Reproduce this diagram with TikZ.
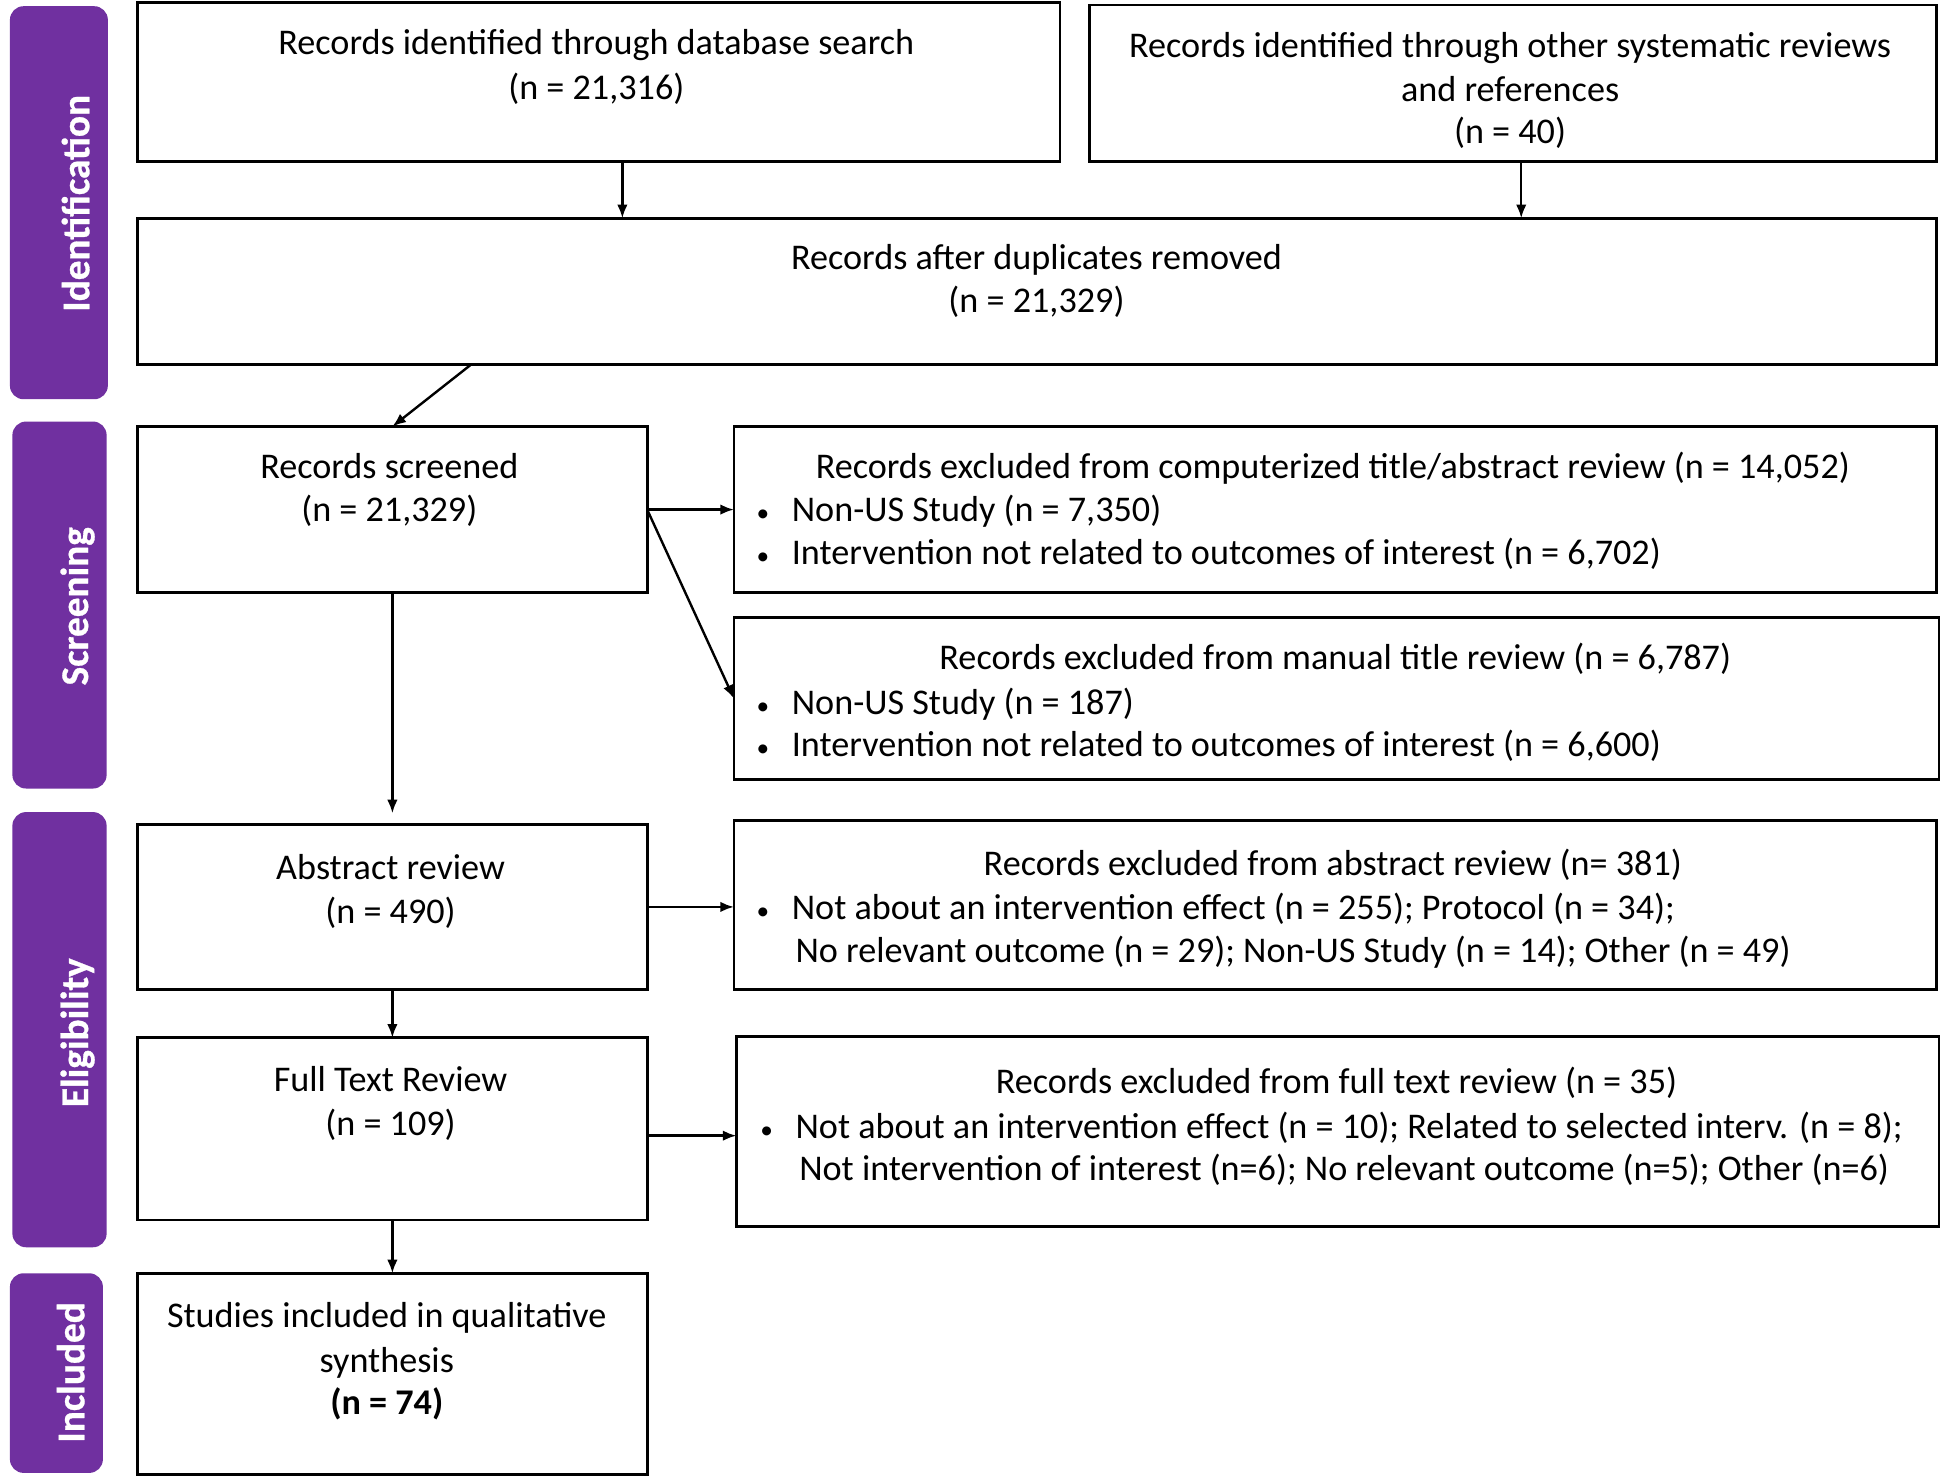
\documentclass[tikz,border=0pt]{standalone}
\usepackage{fontspec}
\usepackage{graphicx}
\setmainfont{Carlito}
\newfontfamily\phasefont[FakeBold=0.8]{Carlito}
\usetikzlibrary{arrows.meta}
\definecolor{phasecol}{HTML}{7030A0}
\newcommand{\mybox}[5]{\node[box, minimum width={(#4-#2)*0.1mm}, minimum height={(#5-#3)*0.1mm}] (#1) at (#2,#3) {};}
\newcommand{\myphase}[5]{\node[phasebox, minimum width={(#4-#2)*0.1mm}, minimum height={(#5-#3)*0.1mm}] (#1) at (#2,#3) {};}
\newcommand{\bul}{\makebox[3.0mm][l]{\hspace{0.15mm}\scalebox{0.7}{\textbullet}}}
\begin{document}
\begin{tikzpicture}[x=0.1mm, y=-0.1mm,
  box/.style={draw, line width=0.65pt, anchor=north west, inner sep=0pt, outer sep=0pt, fill=white},
  phasebox/.style={fill=phasecol, rounded corners=1.1mm, anchor=north west, inner sep=0pt, outer sep=0pt},
  phasetxt/.style={text=white, font=\fontsize{9}{11}\selectfont\phasefont\bfseries, rotate=90, anchor=base, inner sep=0pt},
  txt/.style={inner sep=0pt, font=\fontsize{8.3}{10.2}\selectfont, anchor=base},
  btxt/.style={inner sep=0pt, font=\fontsize{8.3}{10.2}\selectfont, anchor=base west},
  arr/.style={-{Latex[length=1.1mm,width=0.85mm]}, line width=0.55pt}]
\useasboundingbox (0,0) rectangle (1568,1193);
\fill[white] (0,0) rectangle (1568,1193);
% phase labels
\myphase{P1}{8}{5}{87}{322}
\myphase{P2}{10}{340}{86}{636}
\myphase{P3}{10}{655}{86}{1006}
\myphase{P4}{8}{1027}{83}{1188}
\node[phasetxt] (p1t) at (72,164) {Identification};
\node[phasetxt] (p2t) at (71,489) {Screening};
\node[phasetxt] (p3t) at (71,833) {Eligibility};
\node[phasetxt] (p4t) at (68,1107) {Included};
% boxes
\mybox{A}{111}{2}{855}{130}
\mybox{B}{879}{4}{1562}{130}
\mybox{C}{111}{176}{1562}{294}
\mybox{D}{111}{344}{522}{478}
\mybox{E}{592}{344}{1562}{478}
\mybox{F}{592}{498}{1564}{629}
\mybox{G}{111}{665}{522}{798}
\mybox{H}{592}{662}{1562}{798}
\mybox{I}{111}{837}{522}{984}
\mybox{J}{594}{836}{1564}{989}
\mybox{K}{111}{1027}{522}{1189}
% texts
\node[txt] (a1) at (481,44) {Records identified through database search};
\node[txt] (a2) at (481,80) {(n = 21,316)};
\node[txt] (b1) at (1218,46) {Records identified through other systematic reviews};
\node[txt] (b2) at (1218,82) {and references};
\node[txt] (b3) at (1218,116) {(n = 40)};
\node[txt] (c1) at (836,217) {Records after duplicates removed};
\node[txt] (c2) at (836,252) {(n = 21,329)};
\node[txt] (d1) at (314,386) {Records screened};
\node[txt] (d2) at (314,421) {(n = 21,329)};
\node[txt] (e1) at (1075,386) {Records excluded from computerized title/abstract review (n = 14,052)};
\node[btxt] (e2) at (608,421) {\bul Non-US Study (n = 7,350)};
\node[btxt] (e3) at (608,455) {\bul Intervention not related to outcomes of interest (n = 6,702)};
\node[txt] (f1) at (1077,540) {Records excluded from manual title review (n = 6,787)};
\node[btxt] (f2) at (608,576) {\bul Non-US Study (n = 187)};
\node[btxt] (f3) at (608,610) {\bul Intervention not related to outcomes of interest (n = 6,600)};
\node[txt] (g1) at (315,709) {Abstract review};
\node[txt] (g2) at (315,745) {(n = 490)};
\node[txt] (h1) at (1075,706) {Records excluded from abstract review (n= 381)};
\node[btxt] (h2) at (608,742) {\bul Not about an intervention effect (n = 255); Protocol (n = 34);};
\node[btxt] (h3) at (641,776) {No relevant outcome (n = 29); Non-US Study (n = 14); Other (n = 49)};
\node[txt] (i1) at (315,880) {Full Text Review};
\node[txt] (i2) at (315,916) {(n = 109)};
\node[txt] (j1) at (1078,882) {Records excluded from full text review (n = 35)};
\node[btxt] (j2) at (611,918) {\bul Not about an intervention effect (n = 10); Related to selected interv. (n = 8);};
\node[btxt] (j3) at (644,952) {Not intervention of interest (n=6); No relevant outcome (n=5); Other (n=6)};
\node[txt] (k1) at (312,1071) {Studies included in qualitative};
\node[txt] (k2) at (312,1107) {synthesis};
\node[txt] (k3) at (312,1141) {\textbf{(n = 74)}};
% arrows
\draw[arr] (502,0 |- A.south) -- (502,0 |- C.north);
\draw[arr] (1227,0 |- B.south) -- (1227,0 |- C.north);
\draw[arr] (380,0 |- C.south) -- (D.north);
\draw[arr] (D.east) -- (E.west);
\draw[arr] (D.east) -- (F.west);
\draw[arr, shorten >=0.9mm] (D.south) -- (G.north);
\draw[arr] (G.east) -- (G.east -| H.west);
\draw[arr] (G.south) -- (I.north);
\draw[arr] (I.east |- 0,916) -- (J.west |- 0,916);
\draw[arr] (I.south) -- (K.north);
\end{tikzpicture}
\end{document}
